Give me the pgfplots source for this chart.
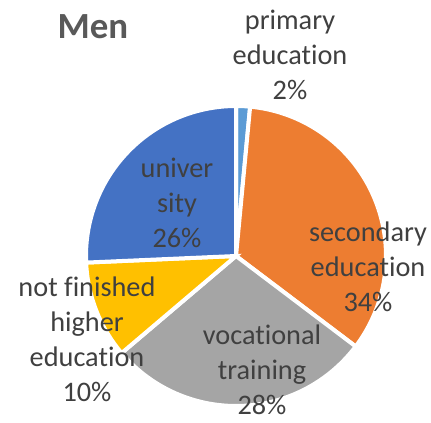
\documentclass[border=0pt]{standalone}
\usepackage{pgfplots}
\usepackage{pgfplotstable}
\pgfplotsset{compat=1.18}
\usepackage{fontspec}
\setmainfont{Carlito}[Ligatures=NoCommon]
\definecolor{cPrim}{HTML}{5B9BD5}
\definecolor{cSec}{HTML}{ED7D31}
\definecolor{cVoc}{HTML}{A5A5A5}
\definecolor{cNot}{HTML}{FFC000}
\definecolor{cUni}{HTML}{4472C4}
\definecolor{txt}{HTML}{404040}
\definecolor{ttl}{HTML}{595959}
\tikzset{lbl/.style={font=\fontsize{28.4}{35}\selectfont,text=txt,align=center,inner sep=0pt}}
\pgfplotstableread{
share
1.5
33.8
28.5
10.5
25.7
}\pietable
\begin{document}
\begin{tikzpicture}
\pgfplotstablegetelem{0}{share}\of\pietable \let\vA\pgfplotsretval
\pgfplotstablegetelem{1}{share}\of\pietable \let\vB\pgfplotsretval
\pgfplotstablegetelem{2}{share}\of\pietable \let\vC\pgfplotsretval
\pgfplotstablegetelem{3}{share}\of\pietable \let\vD\pgfplotsretval
\pgfplotstablegetelem{4}{share}\of\pietable \let\vE\pgfplotsretval
\pgfmathsetmacro\aA{90}
\pgfmathsetmacro\aB{\aA-3.6*\vA}
\pgfmathsetmacro\aC{\aB-3.6*\vB}
\pgfmathsetmacro\aD{\aC-3.6*\vC}
\pgfmathsetmacro\aE{\aD-3.6*\vD}
\pgfmathsetmacro\aF{\aE-3.6*\vE}
\begin{axis}[width=431bp,height=423bp,scale only axis,hide axis,
  xmin=0,xmax=431,ymin=0,ymax=423,clip=false]
\addplot[fill=cPrim,draw=white,line width=4bp,domain=\aB:\aA,samples=10] ({236+150*cos(x)},{167+150*sin(x)}) -- (axis cs:236,167) -- cycle;
\addplot[fill=cSec,draw=white,line width=4bp,domain=\aC:\aB,samples=80] ({236+150*cos(x)},{167+150*sin(x)}) -- (axis cs:236,167) -- cycle;
\addplot[fill=cVoc,draw=white,line width=4bp,domain=\aD:\aC,samples=80] ({236+150*cos(x)},{167+150*sin(x)}) -- (axis cs:236,167) -- cycle;
\addplot[fill=cNot,draw=white,line width=4bp,domain=\aE:\aD,samples=40] ({236+150*cos(x)},{167+150*sin(x)}) -- (axis cs:236,167) -- cycle;
\addplot[fill=cUni,draw=white,line width=4bp,domain=\aF:\aE,samples=80] ({236+150*cos(x)},{167+150*sin(x)}) -- (axis cs:236,167) -- cycle;
\node[lbl] at (axis cs:290,368) {primary\\education\\2\%};
\node[lbl] at (axis cs:177,220) {univer\\sity\\26\%};
\node[lbl] at (axis cs:368,156) {secondary\\education\\34\%};
\node[lbl] at (axis cs:262,53) {vocational\\training\\28\%};
\node[lbl] at (axis cs:87,83.5) {not finished\\higher\\education\\10\%};
\node[lbl,font=\fontsize{37}{40}\selectfont\bfseries,text=ttl] at (axis cs:93,396) {Men};
\end{axis}
\path[use as bounding box] (current axis.south west) rectangle (current axis.north east);
\end{tikzpicture}
\end{document}
